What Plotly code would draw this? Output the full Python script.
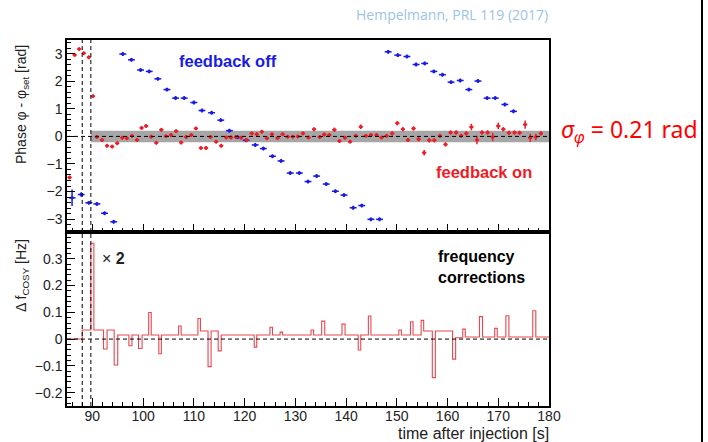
import plotly.graph_objects as go

# ---------------- data ----------------
blue_t = [86.0, 87.8, 89.3, 90.9, 92.4, 94.2, 96.0, 97.7, 99.5, 101.2,
          102.9, 104.7, 106.4, 108.1, 110.0, 111.6, 113.5, 115.3, 117.0, 118.6,
          120.3, 122.1, 123.7, 125.5, 127.2, 129.0, 130.8, 132.5, 134.2, 136.1,
          137.9, 139.6, 141.4, 143.1, 144.9, 146.6, 148.3, 150.2, 152.0, 153.8,
          155.5, 157.3, 159.0, 160.7, 162.5, 164.2, 166.0, 167.8, 169.4, 171.3,
          173.0]
blue_phase = [-2.23, -2.11, -2.41, -2.45, -2.79, -3.10, 2.99, 2.78, 2.41, 2.36,
              2.09, 1.70, 1.39, 1.39, 1.23, 0.94, 0.86, 0.59, 0.21, -0.03,
              -0.14, -0.31, -0.44, -0.72, -0.89, -1.33, -1.33, -1.64, -1.44, -1.73,
              -1.99, -2.13, -2.59, -2.51, -3.01, -3.01, 3.07, 2.95, 2.90, 2.61,
              2.65, 2.36, 2.24, 1.97, 2.03, 1.70, 2.01, 1.39, 1.39, 1.16,
              0.91]
blue_err = [0.30, 0.08, 0.07, 0.07, 0.07, 0.07, 0.07, 0.07, 0.07, 0.07,
            0.07, 0.07, 0.07, 0.07, 0.07, 0.07, 0.07, 0.07, 0.07, 0.07,
            0.07, 0.07, 0.07, 0.07, 0.07, 0.07, 0.07, 0.07, 0.07, 0.07,
            0.07, 0.07, 0.07, 0.07, 0.07, 0.07, 0.07, 0.07, 0.07, 0.07,
            0.07, 0.07, 0.07, 0.07, 0.07, 0.07, 0.07, 0.07, 0.07, 0.07,
            0.07]

red_t = [85.5, 86.5, 87.4, 88.3, 89.3, 90.1, 90.9, 91.9, 92.9, 93.9,
         94.9, 95.9, 96.8, 97.8, 98.8, 99.7, 100.6, 101.6, 102.6, 103.6,
         104.5, 105.5, 106.5, 107.5, 108.5, 109.5, 110.4, 111.4, 112.4, 113.3,
         114.4, 115.4, 116.4, 117.3, 118.3, 119.3, 120.4, 121.4, 122.4, 123.4,
         124.4, 125.4, 126.5, 127.5, 128.5, 129.5, 130.5, 131.5, 132.6, 133.7,
         134.8, 135.7, 136.7, 137.7, 138.7, 139.8, 140.8, 141.9, 142.9, 143.9,
         144.9, 146.0, 147.0, 148.0, 149.1, 150.1, 151.2, 152.2, 153.3, 154.3,
         155.4, 156.4, 157.4, 158.5, 159.6, 160.6, 161.7, 162.7, 163.7, 164.7,
         165.8, 166.8, 167.9, 168.9, 170.0, 171.0, 172.1, 173.2, 174.2, 175.3,
         176.3, 177.4, 178.4]
red_phase = [-1.49, 2.96, 3.17, 3.02, 2.87, 1.46, -0.02, -0.13, -0.34, -0.37,
             -0.25, -0.05, -0.07, 0.02, -0.13, 0.31, 0.38, -0.01, -0.23, 0.24,
             0.01, 0.05, 0.19, -0.22, -0.02, 0.05, 0.29, -0.42, -0.42, -0.02,
             -0.19, -0.34, -0.04, -0.04, -0.02, -0.05, -0.13, 0.11, 0.08, 0.17,
             -0.07, 0.08, -0.06, 0.08, -0.01, -0.01, 0.00, 0.11, -0.04, 0.26,
             -0.02, 0.07, 0.05, 0.24, -0.17, -0.05, -0.19, 0.02, 0.35, 0.02,
             0.05, 0.05, -0.04, 0.02, 0.11, 0.48, 0.26, -0.13, 0.29, -0.10,
             -0.59, -0.14, -0.14, 0.02, -0.29, 0.14, 0.14, 0.02, 0.11, 0.34,
             -0.13, 0.14, 0.14, -0.02, 0.38, 0.26, 0.13, 0.14, 0.13, 0.43,
             -0.05, -0.02, 0.11]
red_err = [0.07, 0.07, 0.07, 0.07, 0.07, 0.07, 0.07, 0.07, 0.07, 0.07,
           0.07, 0.07, 0.07, 0.07, 0.07, 0.07, 0.07, 0.07, 0.07, 0.07,
           0.07, 0.07, 0.07, 0.07, 0.07, 0.07, 0.07, 0.07, 0.07, 0.07,
           0.07, 0.07, 0.07, 0.07, 0.07, 0.07, 0.07, 0.07, 0.07, 0.07,
           0.07, 0.07, 0.07, 0.07, 0.07, 0.07, 0.07, 0.07, 0.07, 0.07,
           0.07, 0.07, 0.07, 0.08, 0.07, 0.07, 0.07, 0.07, 0.08, 0.07,
           0.07, 0.07, 0.07, 0.07, 0.08, 0.08, 0.08, 0.07, 0.08, 0.08,
           0.10, 0.08, 0.08, 0.08, 0.08, 0.08, 0.08, 0.08, 0.08, 0.12,
           0.15, 0.08, 0.08, 0.15, 0.12, 0.08, 0.08, 0.08, 0.08, 0.15,
           0.15, 0.12, 0.08]

# frequency corrections: step function (time of change, value after change)
freq_t = [85.0, 88.0, 89.7, 90.3, 92.2, 92.9, 94.3, 95.0, 97.2, 97.8,
          99.1, 99.8, 101.1, 101.6, 103.1, 103.6, 107.0, 107.5, 110.8, 111.3,
          112.8, 113.4, 114.8, 115.4, 121.9, 122.4, 125.0, 125.5, 127.0, 127.5,
          133.1, 133.6, 135.2, 135.8, 139.2, 139.8, 142.4, 142.9, 144.4, 144.9,
          150.4, 150.9, 152.7, 153.2, 154.8, 155.3, 157.0, 157.6, 161.0, 161.6,
          163.0, 163.5, 166.3, 166.9, 169.3, 169.8, 171.5, 172.1, 176.8, 177.4,
          180.0]
freq_df = [0.0, 0.034, 0.358, 0.034, -0.037, 0.034, -0.097, 0.015, -0.025, 0.015,
           -0.035, 0.015, 0.099, 0.015, -0.055, 0.015, 0.049, 0.015, 0.077, 0.030,
           -0.103, 0.030, -0.044, 0.015, -0.030, 0.015, 0.044, 0.015, 0.026, 0.015,
           0.034, 0.015, 0.067, 0.015, 0.056, 0.015, -0.041, 0.015, 0.086, 0.015,
           0.034, 0.015, 0.065, 0.015, 0.070, 0.030, -0.144, 0.030, -0.075, 0.005,
           0.037, 0.008, 0.084, 0.008, 0.040, 0.008, 0.087, 0.008, 0.106, 0.008,
           0.008]

x_ticks = [90, 100, 110, 120, 130, 140, 150, 160, 170, 180]
phase_ticks = [-3, -2, -1, 0, 1, 2, 3]
df_ticks = [-0.2, -0.1, 0, 0.1, 0.2, 0.3]

sigma_phi = 0.21
feedback_start = 89.7
injection_mark = 88.0

# ---------------- figure ----------------
FONT = "Liberation Sans, Arial, Helvetica, sans-serif"
BLUE = "#1a1ae6"
RED = "#ee1c25"

fig = go.Figure()

fig.add_trace(go.Scatter(
    x=blue_t, y=blue_phase, mode="markers", xaxis="x", yaxis="y",
    marker=dict(color=BLUE, size=3.5),
    error_x=dict(type="constant", value=0.68, color=BLUE, thickness=1.5, width=0),
    error_y=dict(type="data", array=blue_err, color=BLUE, thickness=1.5, width=0),
    showlegend=False))

fig.add_trace(go.Scatter(
    x=red_t, y=red_phase, mode="markers", xaxis="x", yaxis="y",
    marker=dict(color=RED, size=3.5),
    error_x=dict(type="constant", value=0.42, color=RED, thickness=1.5, width=0),
    error_y=dict(type="data", array=red_err, color=RED, thickness=1.5, width=0),
    showlegend=False))

fig.add_trace(go.Scatter(
    x=freq_t, y=freq_df, mode="lines", line_shape="hv", xaxis="x2", yaxis="y2",
    line=dict(color="#e8474f", width=1.1), showlegend=False))

ax_common = dict(
    showgrid=False, zeroline=False, showline=True, mirror=True,
    linecolor="black", linewidth=1.5, ticks="inside", tickcolor="black",
    tickfont=dict(family=FONT, size=14, color="#222"),
)

fig.update_layout(
    width=708, height=442,
    margin=dict(l=67, r=159, t=40, b=36),
    paper_bgcolor="white", plot_bgcolor="white",
    xaxis=dict(ax_common, domain=[0, 1], anchor="y", range=[85, 180],
               tickvals=x_ticks, showticklabels=False, ticklen=8,
               minor=dict(dtick=2, tick0=0, ticklen=4, ticks="inside", tickcolor="black")),
    xaxis2=dict(ax_common, domain=[0, 1], anchor="y2", range=[85, 180], matches="x",
                tickvals=x_ticks, ticklen=8, ticklabelstandoff=-4,
                minor=dict(dtick=2, tick0=0, ticklen=4, ticks="inside", tickcolor="black")),
    yaxis=dict(ax_common, domain=[0.4754, 1], anchor="x", range=[-3.47, 3.5],
               tickvals=phase_ticks, ticklen=8,
               minor=dict(dtick=0.2, tick0=0, ticklen=4, ticks="inside", tickcolor="black")),
    yaxis2=dict(ax_common, domain=[0, 0.4754], anchor="x2", range=[-0.25, 0.4],
                tickvals=df_ticks, ticklen=8,
                minor=dict(dtick=0.02, tick0=0, ticklen=4, ticks="inside", tickcolor="black")),
)

shapes = []
# sigma band
shapes.append(dict(type="rect", xref="x", yref="y", x0=feedback_start, x1=180,
                   y0=-sigma_phi, y1=sigma_phi, fillcolor="#a6a6a6",
                   line=dict(width=0), layer="below"))
# zero dashed lines and vertical markers
for xr, yr in (("x", "y"), ("x2", "y2")):
    shapes.append(dict(type="line", xref=xr + " domain", yref=yr, x0=0, x1=1, y0=0, y1=0,
                       line=dict(color="black", width=1, dash="4px,3px")))
    for xv in (injection_mark, feedback_start):
        shapes.append(dict(type="line", xref=xr, yref=yr + " domain", x0=xv, x1=xv, y0=0, y1=1,
                           line=dict(color="black", width=1, dash="4px,3px")))
# slide border on the right
shapes.append(dict(type="line", xref="paper", yref="paper", x0=1.3174, x1=1.3174,
                   y0=-0.2, y1=1.2, line=dict(color="black", width=2)))
fig.update_layout(shapes=shapes)

ann = []
ann.append(dict(text="feedback off", xref="x", yref="y", x=116.8, y=2.73,
                xanchor="center", yanchor="middle", showarrow=False,
                font=dict(family=FONT, size=16.5, color=BLUE, weight="bold")))
ann.append(dict(text="feedback on", xref="x", yref="y", x=167.2, y=-1.29,
                xanchor="center", yanchor="middle", showarrow=False,
                font=dict(family=FONT, size=16.5, color=RED, weight="bold")))
ann.append(dict(text="frequency<br>corrections", xref="x2", yref="y2", x=157.8, y=0.271,
                xanchor="left", yanchor="middle", align="left", showarrow=False,
                font=dict(family=FONT, size=16, color="black", weight="bold")))
ann.append(dict(text="× <b>2</b>", xref="x2", yref="y2", x=91.5, y=0.30,
                xanchor="left", yanchor="middle", showarrow=False,
                font=dict(family=FONT, size=16, color="#222")))
ann.append(dict(text="Phase φ - φ<sub>set</sub> [rad]", xref="paper", yref="paper",
                x=-0.0934, y=0.825, xanchor="center", yanchor="middle",
                textangle=-90, showarrow=False,
                font=dict(family=FONT, size=14, color="#222")))
ann.append(dict(text="Δ f<sub>COSY</sub> [Hz]", xref="paper", yref="paper",
                x=-0.0934, y=0.358, xanchor="center", yanchor="middle",
                textangle=-90, showarrow=False,
                font=dict(family=FONT, size=14, color="#222")))
ann.append(dict(text="time after injection [s]", xref="paper", yref="paper",
                x=1.004, y=-0.074, xanchor="right", yanchor="middle", showarrow=False,
                font=dict(family=FONT, size=16, color="#222")))
ann.append(dict(text="Hempelmann, PRL 119 (2017)", xref="paper", yref="paper",
                x=0.799, y=1.071, xanchor="center", yanchor="middle", showarrow=False,
                font=dict(family="Open Sans, sans-serif", size=14, color="#9dc3e6")))
ann.append(dict(text="<i>σ</i><sub><i>φ</i></sub> = 0.21 rad", xref="paper", yref="paper",
                x=1.0207, y=0.754, xanchor="left", yanchor="middle", showarrow=False,
                font=dict(family="Noto Sans, sans-serif", size=23, color="#ff0000")))
fig.update_layout(annotations=ann)

fig.write_html("out.html")
